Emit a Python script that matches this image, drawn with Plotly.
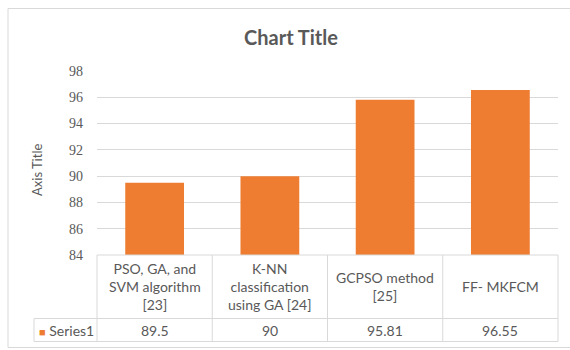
import plotly.graph_objects as go

# Data
categories = [
    "PSO, GA, and<br>SVM algorithm<br>[23]",
    "K-NN<br>classification<br>using GA [24]",
    "GCPSO method<br>[25]",
    "FF- MKFCM",
]
series_name = "Series1"
values = [89.5, 90, 95.81, 96.55]
y_ticks = [84, 86, 88, 90, 92, 94, 96, 98]

W, H = 570, 350
ML, MR, MT, MB = 97, 12, 71, 95
PW = W - ML - MR
PH = H - MT - MB

TEXT = "#595959"
GRID = "#d9d9d9"
BAR = "#EE7D31"
FONT = "Lato, Open Sans, sans-serif"


def xp(px):
    return (px - ML) / PW


def yp(py):
    return (H - MB - py) / PH


fig = go.Figure(
    go.Bar(
        x=list(range(len(categories))),
        y=values,
        base=0,
        marker=dict(color=BAR, line=dict(width=0)),
        name=series_name,
        hoverinfo="y",
    )
)

fig.update_layout(
    width=W,
    height=H,
    margin=dict(l=ML, r=MR, t=MT, b=MB),
    paper_bgcolor="white",
    plot_bgcolor="white",
    bargap=0.49,
    showlegend=False,
    font=dict(family=FONT, color=TEXT, size=13),
    title=dict(
        text="<b>Chart Title</b>",
        font=dict(family=FONT, size=20, color=TEXT),
        x=291 / W,
        xref="container",
        xanchor="center",
        y=1 - 38 / H,
        yref="container",
        yanchor="middle",
    ),
    xaxis=dict(
        range=[-0.5, len(categories) - 0.5],
        showticklabels=False,
        showgrid=False,
        zeroline=False,
        showline=False,
        fixedrange=True,
    ),
    yaxis=dict(
        range=[y_ticks[0], y_ticks[-1]],
        tickvals=y_ticks,
        ticktext=[str(t) for t in y_ticks],
        tickfont=dict(family="Liberation Serif, serif", size=14, color=TEXT),
        gridcolor=GRID,
        gridwidth=1,
        zeroline=False,
        showline=False,
        ticks="",
        ticklabelstandoff=13,
        fixedrange=True,
    ),
)

shapes = []
line = dict(color=GRID, width=1)

# chart border
shapes.append(dict(type="rect", xref="paper", yref="paper",
                   x0=xp(8), x1=xp(W + 5), y0=yp(347.5), y1=yp(8.5),
                   line=line, fillcolor="rgba(0,0,0,0)", layer="below"))

# data table grid
n = len(categories)
col_w = PW / n
table_top, row_div, table_bot = 255, 318.5, 341.5
left_cell = 34
shapes.append(dict(type="line", xref="paper", yref="paper",
                   x0=0, x1=1, y0=yp(table_top), y1=yp(table_top), line=line))
for yy in (row_div, table_bot):
    shapes.append(dict(type="line", xref="paper", yref="paper",
                       x0=xp(left_cell), x1=1, y0=yp(yy), y1=yp(yy), line=line))
for i in range(n + 1):
    xx = ML + i * col_w
    shapes.append(dict(type="line", xref="paper", yref="paper",
                       x0=xp(xx), x1=xp(xx), y0=yp(table_top), y1=yp(table_bot), line=line))
shapes.append(dict(type="line", xref="paper", yref="paper",
                   x0=xp(left_cell), x1=xp(left_cell), y0=yp(row_div), y1=yp(table_bot), line=line))

annotations = []
for i, (cat, val) in enumerate(zip(categories, values)):
    cx = ML + (i + 0.5) * col_w
    annotations.append(dict(xref="paper", yref="paper", x=xp(cx), y=yp(286.5),
                            text=cat, showarrow=False, xanchor="center", yanchor="middle",
                            font=dict(family=FONT, size=14, color=TEXT), align="center"))
    annotations.append(dict(xref="paper", yref="paper", x=xp(cx), y=yp(330),
                            text=f"{val:g}", showarrow=False, xanchor="center", yanchor="middle",
                            font=dict(family=FONT, size=14, color=TEXT)))

# legend key inside the table
annotations.append(dict(xref="paper", yref="paper", x=xp(37), y=yp(330),
                        text=f"<span style='color:{BAR};font-size:11px'>■</span> {series_name}",
                        showarrow=False, xanchor="left", yanchor="middle",
                        font=dict(family=FONT, size=14, color=TEXT)))

# vertical axis title
annotations.append(dict(xref="paper", yref="paper", x=xp(37), y=yp(170),
                        text="Axis Title", textangle=-90, showarrow=False,
                        xanchor="center", yanchor="middle",
                        font=dict(family=FONT, size=13, color=TEXT)))

fig.update_layout(shapes=shapes, annotations=annotations)

fig.write_html("out.html")
